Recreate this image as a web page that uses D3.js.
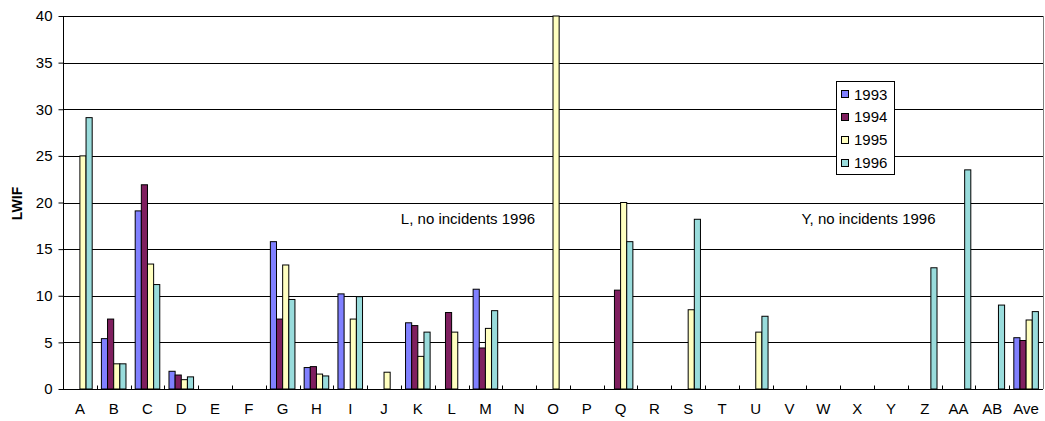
<!DOCTYPE html>
<html>
<head>
<meta charset="utf-8">
<script src="https://cdn.jsdelivr.net/npm/d3@7"></script>
<style>
html,body{margin:0;padding:0;background:#fff;}
svg{display:block;font-family:"Liberation Sans",Arial,sans-serif;}
</style>
</head>
<body>
<svg id="chart" width="1045" height="421"></svg>
<script>
const categories = ["A","B","C","D","E","F","G","H","I","J","K","L","M","N","O","P","Q","R","S","T","U","V","W","X","Y","Z","AA","AB","Ave"];
const seriesNames = ["1993","1994","1995","1996"];
const s1993 = [null,5.4,19.1,1.9,null,null,15.8,2.3,10.2,null,7.1,null,10.7,null,null,null,null,null,null,null,null,null,null,null,null,null,null,null,5.5];
const s1994 = [null,7.5,21.9,1.5,null,null,7.5,2.4,null,null,6.8,8.2,4.4,null,null,null,10.6,null,null,null,null,null,null,null,null,null,null,null,5.2];
const s1995 = [25.0,2.7,13.4,1.0,null,null,13.3,1.6,7.5,1.8,3.5,6.1,6.5,null,40.0,null,20.0,null,8.5,null,6.1,null,null,null,null,null,null,null,7.4];
const s1996 = [29.1,2.7,11.2,1.3,null,null,9.6,1.4,9.9,null,6.1,null,8.4,null,null,null,15.8,null,18.2,null,7.8,null,null,null,null,13.0,23.5,9.0,8.3];
const seriesValues = [s1993,s1994,s1995,s1996];
const colors = ["#8080FF","#7F1F5F","#FFFFC0","#99DCDC"];
const yTicks = [0,5,10,15,20,25,30,35,40];
const notes = [{text:"L, no incidents 1996", cx:468, v:18.3},{text:"Y, no incidents 1996", cx:868.5, v:18.3}];

const svg = d3.select("#chart");
const L = 63, R = 1043, T = 16, B = 389;
const FS = 15;
const x = d3.scaleBand().domain(categories).range([L,R]).paddingInner(0).paddingOuter(0);
const y = d3.scaleLinear().domain([0,40]).range([B,T]);
const bw = x.bandwidth()/5.5;
const off = (x.bandwidth() - 4*bw)/2;

// gridlines
svg.append("g").selectAll("line").data(yTicks.filter(d=>d>0)).join("line")
  .attr("x1",L).attr("x2",R)
  .attr("y1",d=>Math.round(y(d))+0.5).attr("y2",d=>Math.round(y(d))+0.5)
  .attr("stroke","#000").attr("stroke-width",1);

// right border
svg.append("line").attr("x1",R+0.5).attr("x2",R+0.5).attr("y1",T).attr("y2",B)
  .attr("stroke","#808080");

// bars
seriesValues.forEach((vals,si)=>{
  svg.append("g").selectAll("rect")
    .data(categories.map((c,i)=>({c,v:vals[i]})).filter(d=>d.v!=null))
    .join("rect")
    .attr("x",d=>x(d.c)+off+si*bw)
    .attr("y",d=>y(d.v))
    .attr("width",bw)
    .attr("height",d=>y(0)-y(d.v))
    .attr("fill",colors[si])
    .attr("stroke","#000").attr("stroke-width",1);
});

// y axis
const yAxis = svg.append("g").attr("transform",`translate(${L+0.5},0)`)
  .call(d3.axisLeft(y).tickValues(yTicks).tickSize(5).tickPadding(6));
yAxis.select(".domain").attr("stroke","#000").attr("d",`M0,${T}V${B}`);
yAxis.selectAll(".tick line").attr("stroke","#000");
yAxis.selectAll("text").attr("font-size",FS).attr("fill","#000").attr("font-family","Liberation Sans, Arial, sans-serif");

// x axis
const xg = svg.append("g").attr("transform",`translate(0,${Math.round(B)+0.5})`);
xg.append("line").attr("x1",L).attr("x2",R).attr("stroke","#000");
xg.selectAll("line.tk").data(categories.slice(1)).join("line").attr("class","tk")
  .attr("x1",d=>Math.round(x(d))+0.5).attr("x2",d=>Math.round(x(d))+0.5)
  .attr("y1",0).attr("y2",-4).attr("stroke","#000");
xg.selectAll("text").data(categories).join("text")
  .attr("x",d=>x(d)+x.bandwidth()/2).attr("y",24)
  .attr("text-anchor","middle").attr("font-size",FS).text(d=>d);

// y label
svg.append("text").attr("transform",`translate(22,${(T+B)/2+1}) rotate(-90)`)
  .attr("text-anchor","middle").attr("font-size",14).attr("font-weight","bold").text("LWIF");

// notes
svg.selectAll("text.note").data(notes).join("text").attr("class","note")
  .attr("x",d=>d.cx).attr("y",d=>y(d.v)+5.5).attr("text-anchor","middle")
  .attr("font-size",FS).text(d=>d.text);

// legend
const lg = svg.append("g");
lg.append("rect").attr("x",836.5).attr("y",81.5).attr("width",58).attr("height",93)
  .attr("fill","#fff").attr("stroke","#000");
seriesNames.forEach((n,i)=>{
  const cy = 94 + i*22.9;
  lg.append("rect").attr("x",841.5).attr("y",Math.round(cy-4)+0.5).attr("width",7).attr("height",7)
    .attr("fill",colors[i]).attr("stroke","#000");
  lg.append("text").attr("x",854).attr("y",cy+5.5).attr("font-size",FS).text(n);
});
</script>
</body>
</html>
